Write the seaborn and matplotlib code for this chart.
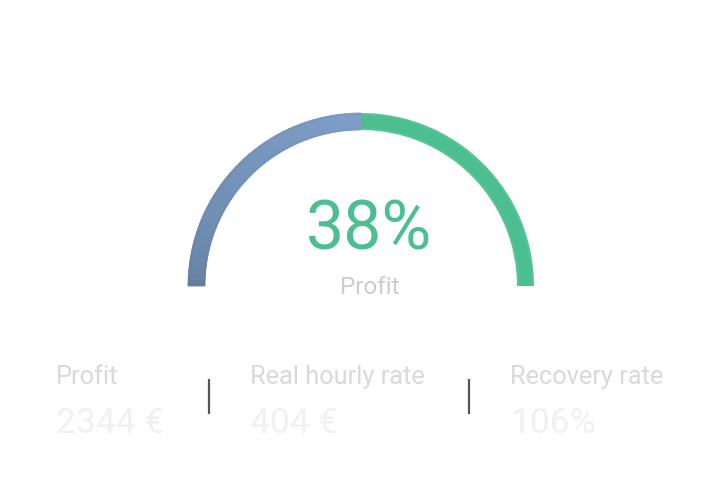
import numpy as np
import matplotlib
matplotlib.use("Agg")
import matplotlib.pyplot as plt
import matplotlib.colors as mcolors
import seaborn as sns

# ---- data ----
gauge_labels = ["Cost", "Profit"]
gauge_values = [50, 50]
gauge_text = "38%"
gauge_caption = "Profit"
stat_labels = ["Profit", "Real hourly rate", "Recovery rate"]
stat_values = ["2344 €", "404 €", "106%"]

sns.set_theme(style="white")
plt.rcParams['font.family'] = ['Roboto', 'DejaVu Sans']

fig = plt.figure(figsize=(7.22, 5.02), dpi=100)
ax = fig.add_axes([0, 0, 1, 1])
ax.set_xlim(0, 722)
ax.set_ylim(502, 0)
ax.axis("off")

cx, cy = 361, 287
r_out, width = 173, 17

total = sum(gauge_values)
n = 40
blue_a = np.array(mcolors.to_rgb("#63819f"))
blue_b = np.array(mcolors.to_rgb("#7e9ec8"))
blue_cols = [tuple(blue_a + (blue_b - blue_a) * (i / (n - 1)) ** 0.6) for i in range(n)]
slices = [gauge_values[0] / n] * n
vals = slices + [gauge_values[1], total]
cols = blue_cols + ["#4bbf8f", (1, 1, 1, 0)]
wedges, _ = ax.pie(vals, colors=cols, startangle=180, counterclock=True,
                   center=(cx, cy), radius=r_out,
                   wedgeprops=dict(width=width, linewidth=0, antialiased=True))
for w, c in zip(wedges[:n], blue_cols):
    w.set_edgecolor(c)
    w.set_linewidth(0.6)
# subtle edge darkening of the blue band
for rr in [r_out, r_out - width + 2]:
    ax.pie([gauge_values[0], gauge_values[1] + total], colors=["#4a6688", (1, 1, 1, 0)],
           startangle=180, counterclock=True, center=(cx, cy), radius=rr,
           wedgeprops=dict(width=2, linewidth=0, alpha=0.08))
ax.set_xlim(0, 722)
ax.set_ylim(502, 0)
ax.set_aspect("auto")

ax.text(cx + 8, 231, gauge_text, color="#4bbf8f", fontsize=49, ha="center", va="center")
ax.text(cx + 9, 288, gauge_caption, color="#cccccc", fontsize=17.5, ha="center", va="center")

xs = [56, 250, 510]
for x, lab, val in zip(xs, stat_labels, stat_values):
    ax.text(x, 377, lab, color="#d9d9d9", fontsize=18.3, ha="left", va="center")
    ax.text(x, 424, val, color="#f1f1f1", fontsize=25.5, ha="left", va="center")
for x in [209, 469]:
    ax.plot([x, x], [380, 415], color="#555555", lw=1.6, solid_capstyle="butt")

fig.savefig("out.png", dpi=100, facecolor="white")
